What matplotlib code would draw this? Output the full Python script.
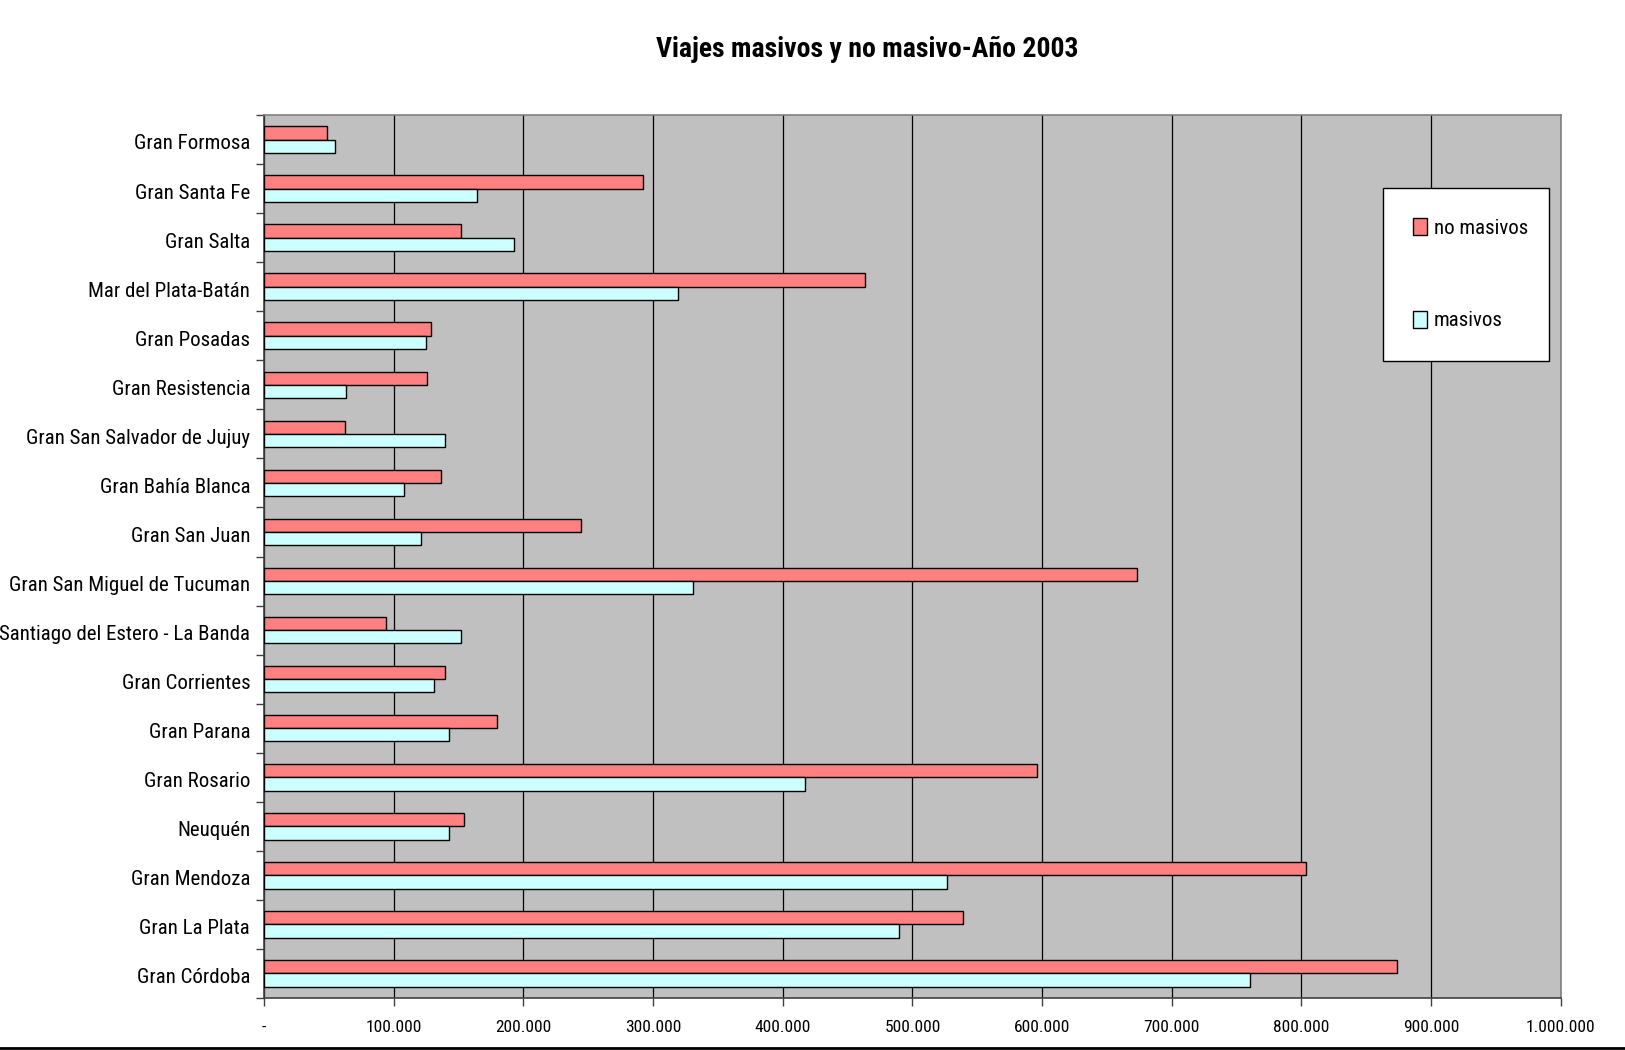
import matplotlib
matplotlib.use("Agg")
import matplotlib.pyplot as plt
import numpy as np
from matplotlib.ticker import FixedLocator, FuncFormatter
from matplotlib.lines import Line2D

plt.rcParams['font.family'] = ['Roboto Condensed', 'Liberation Sans Narrow', 'Roboto', 'DejaVu Sans']
plt.rcParams['font.stretch'] = 'condensed'

categories = ["Gran Formosa", "Gran Santa Fe", "Gran Salta", "Mar del Plata-Batán",
              "Gran Posadas", "Gran Resistencia", "Gran San Salvador de Jujuy",
              "Gran Bahía Blanca", "Gran San Juan", "Gran San Miguel de Tucuman",
              "Santiago del Estero - La Banda", "Gran Corrientes", "Gran Parana",
              "Gran Rosario", "Neuquén", "Gran Mendoza", "Gran La Plata", "Gran Córdoba"]
no_masivos = [48800, 292600, 151900, 463600, 128700, 125500, 62400, 136700, 244600,
              673000, 94300, 139900, 179900, 596300, 154300, 803400, 538800, 873700]
masivos = [54400, 163900, 192600, 318900, 124700, 63100, 139900, 107900, 120700,
           331000, 151900, 131100, 142300, 417300, 142300, 526800, 490000, 760200]
xticks = [0, 100000, 200000, 300000, 400000, 500000, 600000, 700000, 800000, 900000, 1000000]
title = "Viajes masivos y no masivo-Año 2003"

fig = plt.figure(figsize=(16.25, 10.5), dpi=100)
ax = fig.add_axes([0.1625, 0.0495, 0.798, 0.841])
ax.set_facecolor('#C0C0C0')

n = len(categories)
pos = np.arange(n)[::-1].astype(float)  # top = first category
h = 0.27
ax.barh(pos + h / 2, no_masivos, height=h, color='#FF8080', edgecolor='black',
        linewidth=1.0, label='no masivos', zorder=3)
ax.barh(pos - h / 2, masivos, height=h, color='#CCFFFF', edgecolor='black',
        linewidth=1.0, label='masivos', zorder=3)

ax.set_xlim(0, 1000000)
ax.set_ylim(-0.5, n - 0.5)
ax.set_xticks(xticks)
ax.xaxis.set_major_formatter(FuncFormatter(
    lambda v, p: '-' if v == 0 else f"{int(v):,}".replace(',', '.')))
ax.grid(axis='x', color='black', linewidth=0.9, zorder=1)
ax.set_axisbelow(True)

ax.set_yticks(pos - 0.05)
ax.set_yticklabels(categories)
ax.yaxis.set_minor_locator(FixedLocator(np.arange(-0.5, n, 1.0)))
ax.tick_params(axis='y', which='major', length=0, pad=10, labelsize=15)
ax.tick_params(axis='y', which='minor', length=6, width=1, color='#404040')
ax.tick_params(axis='x', which='major', length=6, width=1, color='#404040',
               labelsize=12.5, pad=10)

for s in ax.spines.values():
    s.set_color('#808080')
    s.set_linewidth(1.2)
ax.spines['left'].set_color('#404040')
ax.spines['bottom'].set_color('#404040')

fig.text(0.5335, 0.953, title, ha='center', va='center', fontsize=20, fontweight='bold')

leg = ax.legend(loc='upper left', bbox_to_anchor=(0.8625, 0.9178 - 0.2, 0.1287, 0.2), mode='expand',
                fontsize=15, frameon=True, fancybox=False, edgecolor='black', framealpha=1,
                labelspacing=3.5, handlelength=0.7, handleheight=0.9, handletextpad=0.3,
                borderpad=1.45, borderaxespad=0)
leg.get_frame().set_linewidth(1.0)

fig.add_artist(Line2D([0, 1], [0.002, 0.002], transform=fig.transFigure,
                      color='black', linewidth=2))

fig.savefig('out.png', dpi=100)
